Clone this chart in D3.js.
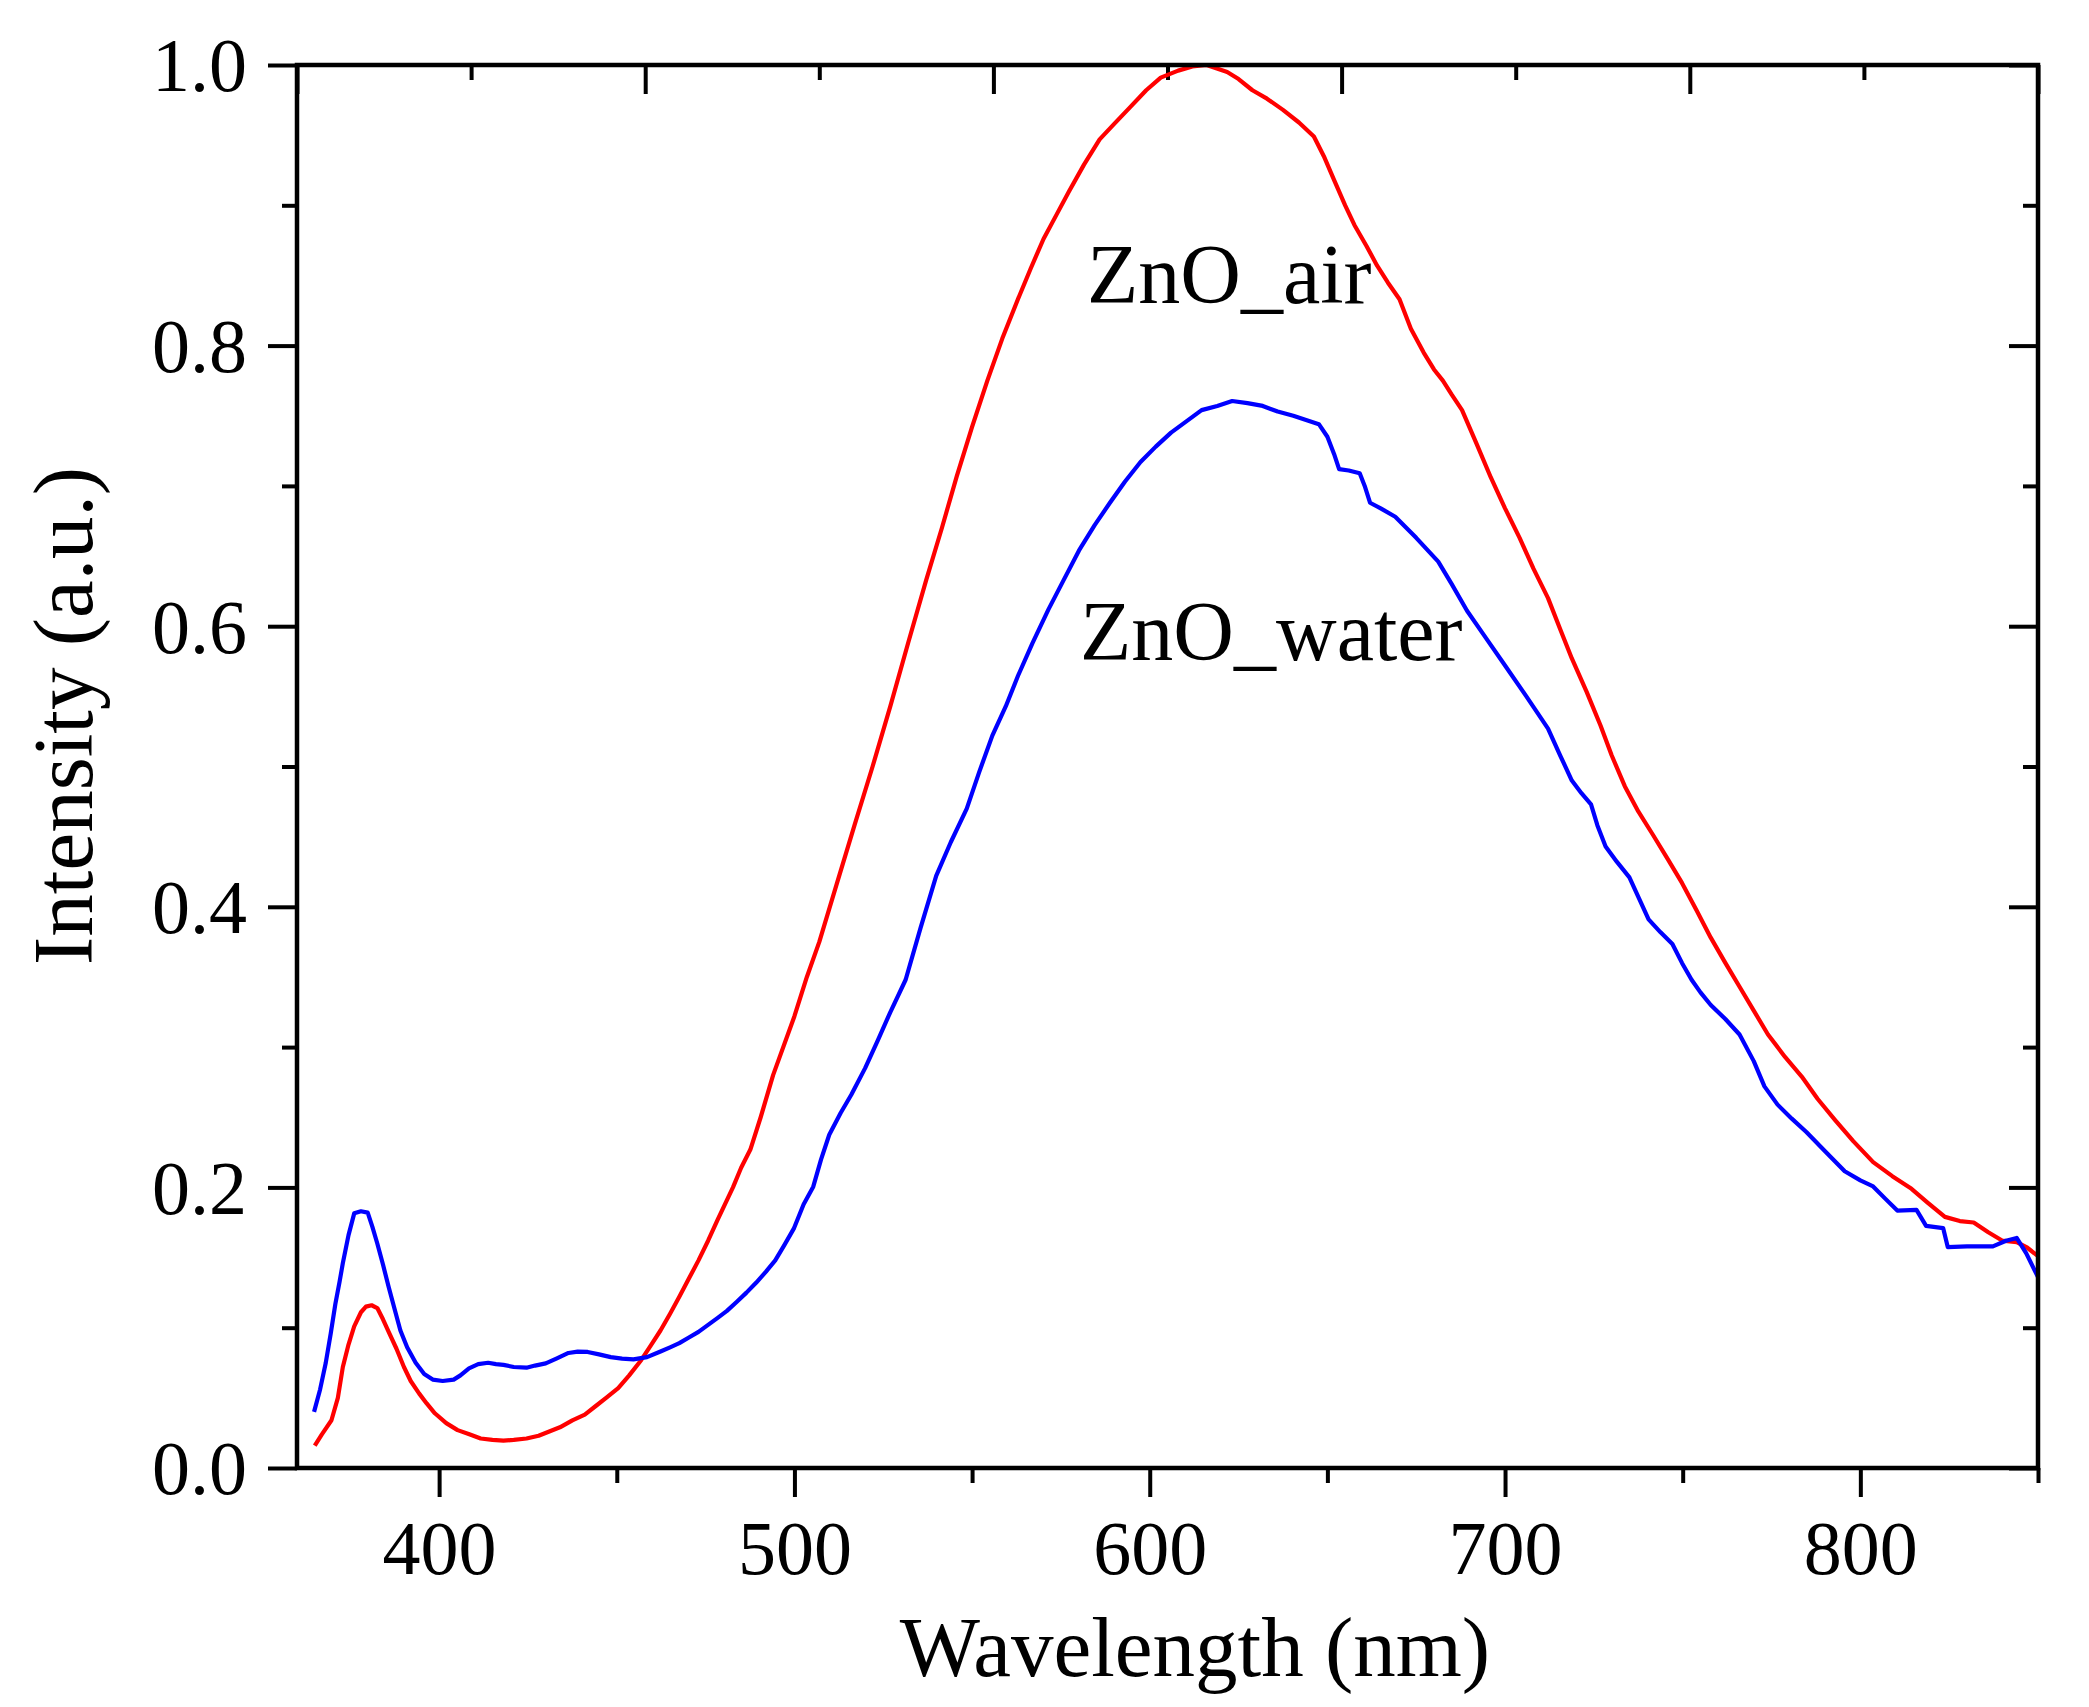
<!DOCTYPE html>
<html>
<head>
<meta charset="utf-8">
<script src="https://cdn.jsdelivr.net/npm/d3@7"></script>
<style>
  html, body { margin: 0; padding: 0; background: #fff; }
  svg { display: block; }
  text { font-family: "Liberation Serif", "Times New Roman", serif; fill: #000; }
</style>
</head>
<body>
<svg id="chart" width="2089" height="1707"></svg>
<script>
// ---- Data ----
const airWavelength = [365,367,369.7,371.5,372.9,374.5,376.1,378,379.4,381,382.6,384.2,385.8,388,390.1,392,394.4,396.5,398.8,402,405.2,408.5,411.7,415,418.1,421,424.6,428,431,434,437.5,441,444,447,450.4,453.5,456.9,459.5,462.3,465,467.6,470.3,473,475.7,478.4,481,482.7,485,487.6,490.5,494,500,503.5,507,512,517,522,527,532,537.1,541.5,545.7,550,554.3,558.5,562.9,566.5,570.1,573.7,577.3,581.5,585.9,590,594.5,599,603.1,608,612,616,621.8,625,628.9,633,637.5,642,646.2,649,651.9,655,657.6,661,664,667,670.3,673.5,677.1,680,682.5,685,687.9,692,696,700,704.1,708,712.1,715.5,718.8,723,726.9,730,733.7,737.5,741.7,745.8,749.8,754,757.9,762,766,770,774,778.8,783.5,788,792.9,798,803.6,809,814.4,819,823.8,828,831.9,836,840,844,847,850];
const airIntensity = [0.016,0.024,0.034,0.05,0.072,0.088,0.101,0.111,0.115,0.116,0.114,0.106,0.097,0.085,0.072,0.062,0.053,0.046,0.039,0.032,0.027,0.024,0.021,0.020,0.0195,0.020,0.021,0.023,0.026,0.029,0.034,0.038,0.044,0.050,0.057,0.066,0.077,0.087,0.098,0.110,0.122,0.135,0.148,0.162,0.177,0.191,0.200,0.214,0.227,0.250,0.280,0.322,0.350,0.375,0.417,0.459,0.500,0.543,0.588,0.633,0.670,0.707,0.742,0.775,0.805,0.833,0.855,0.876,0.893,0.910,0.929,0.947,0.958,0.970,0.982,0.991,0.996,0.999,1.0,0.995,0.990,0.982,0.976,0.968,0.959,0.949,0.935,0.918,0.900,0.886,0.871,0.857,0.845,0.833,0.812,0.795,0.783,0.775,0.765,0.754,0.730,0.706,0.684,0.663,0.641,0.620,0.598,0.577,0.553,0.529,0.508,0.486,0.468,0.451,0.434,0.417,0.397,0.378,0.360,0.343,0.326,0.309,0.293,0.279,0.263,0.248,0.233,0.218,0.208,0.199,0.189,0.179,0.176,0.175,0.168,0.162,0.161,0.157,0.151];

const waterWavelength = [364.8,366.5,368.1,369.5,370.8,372,372.9,374.5,376.1,378,379.9,381.2,382.6,384.2,385.8,387.5,389.1,391,393.4,395.8,398.2,401,404.1,406,408.4,411,413.8,416,418.1,421,424.6,427,430,433,436.4,439,441.8,445,448.3,451.5,454.7,458.5,462.3,465,467.6,470.3,473,475.7,478.4,481,483.8,486.5,489.2,492,494.6,497.2,499.9,502.6,505.3,507.5,509.8,513,516,519.9,523.5,527,531.3,535.5,539.9,544,548.5,552,555.7,559.5,562.9,567,571.5,575.8,580.1,584.5,588.8,593,597.4,601.7,606,610.3,614.6,619,623.2,627.5,631.8,636,640.4,644,647.6,650,651.9,653.3,656,659.1,660.5,662,665,669.1,675,681.2,685,689.3,694.5,700,706,712.1,715.5,718.8,721.5,724.2,726,728.3,731.5,735,737.7,740.4,743.7,747.1,749.8,752.5,755,757.9,762,766,770,773,776.7,780.7,784.8,790,795.6,800,803.6,807,810.4,815.8,818.5,823.3,824.6,830,837.3,841,844,846.7,850];
const waterIntensity = [0.040,0.056,0.075,0.096,0.117,0.133,0.146,0.166,0.1815,0.183,0.182,0.172,0.160,0.145,0.129,0.113,0.098,0.086,0.075,0.067,0.063,0.062,0.063,0.066,0.071,0.074,0.075,0.074,0.0735,0.072,0.0715,0.073,0.0746,0.078,0.082,0.083,0.0827,0.081,0.079,0.078,0.0774,0.079,0.083,0.086,0.089,0.093,0.097,0.102,0.107,0.112,0.1185,0.125,0.132,0.140,0.148,0.159,0.171,0.188,0.2005,0.22,0.2375,0.253,0.266,0.285,0.305,0.325,0.348,0.385,0.422,0.446,0.470,0.496,0.522,0.543,0.5645,0.588,0.612,0.633,0.654,0.672,0.688,0.703,0.717,0.728,0.738,0.746,0.754,0.757,0.7605,0.759,0.757,0.753,0.750,0.747,0.744,0.735,0.7226,0.712,0.711,0.709,0.700,0.688,0.684,0.678,0.663,0.646,0.630,0.611,0.592,0.572,0.550,0.527,0.508,0.490,0.481,0.473,0.458,0.443,0.432,0.421,0.406,0.391,0.382,0.3735,0.360,0.348,0.339,0.330,0.320,0.309,0.290,0.272,0.259,0.249,0.2395,0.226,0.2115,0.205,0.2007,0.192,0.1835,0.184,0.1726,0.171,0.1575,0.158,0.158,0.162,0.164,0.153,0.136];

const xMajorTicks = [400, 500, 600, 700, 800];
const xMinorTicks = [450, 550, 650, 750, 850];
const yMajorTicks = [0.0, 0.2, 0.4, 0.6, 0.8, 1.0];
const yMinorTicks = [0.1, 0.3, 0.5, 0.7, 0.9];
const topMajorTicks = [0, 1, 2, 3, 4, 5];
const topMinorTicks = [0.5, 1.5, 2.5, 3.5, 4.5];

const xTitle = "Wavelength (nm)";
const yTitle = "Intensity (a.u.)";
const airLabel = "ZnO_air";
const waterLabel = "ZnO_water";

// ---- Layout ----
const L = 297, R = 2038, T = 65, B = 1468;
const svg = d3.select("#chart");
svg.append("rect").attr("width", 2089).attr("height", 1707).attr("fill", "#fff");

const x = d3.scaleLinear().domain([360, 850]).range([L, R]);
const y = d3.scaleLinear().domain([0, 1]).range([B, T]);
const xTop = d3.scaleLinear().domain([0, 5]).range([L, R]);

const tickW = 4;
const major = 29, minor = 15;

function styleAxis(g) {
  g.select(".domain").remove();
  g.selectAll(".tick line").attr("stroke", "#000").attr("stroke-width", tickW);
}

// Bottom axis (outward)
const gB = svg.append("g").attr("transform", `translate(0,${B})`);
gB.call(d3.axisBottom(x).tickValues(xMajorTicks).tickSize(major).tickPadding(12).tickFormat(d3.format("d")))
  .call(styleAxis);
gB.selectAll(".tick text").attr("font-size", 76).attr("font-family", "Liberation Serif, serif").attr("fill", "#000")
  .attr("y", 0).attr("dy", 0).attr("transform", "translate(0,106)");
svg.append("g").attr("transform", `translate(0,${B})`)
  .call(d3.axisBottom(x).tickValues(xMinorTicks).tickSize(minor).tickFormat(""))
  .call(styleAxis);

// Left axis (outward)
const gL = svg.append("g").attr("transform", `translate(${L},0)`);
gL.call(d3.axisLeft(y).tickValues(yMajorTicks).tickSize(major).tickPadding(21).tickFormat(d3.format(".1f")))
  .call(styleAxis);
gL.selectAll(".tick text").attr("font-size", 76).attr("font-family", "Liberation Serif, serif").attr("fill", "#000")
  .attr("dy", "0.34em");
svg.append("g").attr("transform", `translate(${L},0)`)
  .call(d3.axisLeft(y).tickValues(yMinorTicks).tickSize(minor).tickFormat(""))
  .call(styleAxis);

// Right axis (inward)
svg.append("g").attr("transform", `translate(${R},0)`)
  .call(d3.axisLeft(y).tickValues(yMajorTicks).tickSize(major).tickFormat(""))
  .call(styleAxis);
svg.append("g").attr("transform", `translate(${R},0)`)
  .call(d3.axisLeft(y).tickValues(yMinorTicks).tickSize(minor).tickFormat(""))
  .call(styleAxis);

// Top axis (inward)
svg.append("g").attr("transform", `translate(0,${T})`)
  .call(d3.axisBottom(xTop).tickValues(topMajorTicks).tickSize(major).tickFormat(""))
  .call(styleAxis);
svg.append("g").attr("transform", `translate(0,${T})`)
  .call(d3.axisBottom(xTop).tickValues(topMinorTicks).tickSize(minor).tickFormat(""))
  .call(styleAxis);

// Data lines
const clip = svg.append("clipPath").attr("id", "plotclip").append("rect")
  .attr("x", L).attr("y", T - 6).attr("width", R - L).attr("height", B - T + 6);

const line = d3.line().x(d => x(d[0])).y(d => y(d[1]));
const airData = airWavelength.map((w, i) => [w, airIntensity[i]]);
const waterData = waterWavelength.map((w, i) => [w, waterIntensity[i]]);

svg.append("path").datum(airData).attr("d", line)
  .attr("fill", "none").attr("stroke", "#ff0000").attr("stroke-width", 4.2)
  .attr("stroke-linejoin", "round").attr("clip-path", "url(#plotclip)");
svg.append("path").datum(waterData).attr("d", line)
  .attr("fill", "none").attr("stroke", "#0000ff").attr("stroke-width", 4.2)
  .attr("stroke-linejoin", "round").attr("clip-path", "url(#plotclip)");

// Frame
svg.append("rect").attr("x", L).attr("y", T).attr("width", R - L).attr("height", B - T)
  .attr("fill", "none").attr("stroke", "#000").attr("stroke-width", 4.5);

// Annotations
svg.append("text").attr("x", 1087).attr("y", 303).attr("font-size", 84).text(airLabel);
svg.append("text").attr("x", 1080).attr("y", 660).attr("font-size", 84).text(waterLabel);

// Axis titles
svg.append("text").attr("x", 1195).attr("y", 1676).attr("text-anchor", "middle")
  .attr("font-size", 85).text(xTitle);
svg.append("text").attr("transform", "translate(92,716) rotate(-90)").attr("text-anchor", "middle")
  .attr("font-size", 85).text(yTitle);
</script>
</body>
</html>
